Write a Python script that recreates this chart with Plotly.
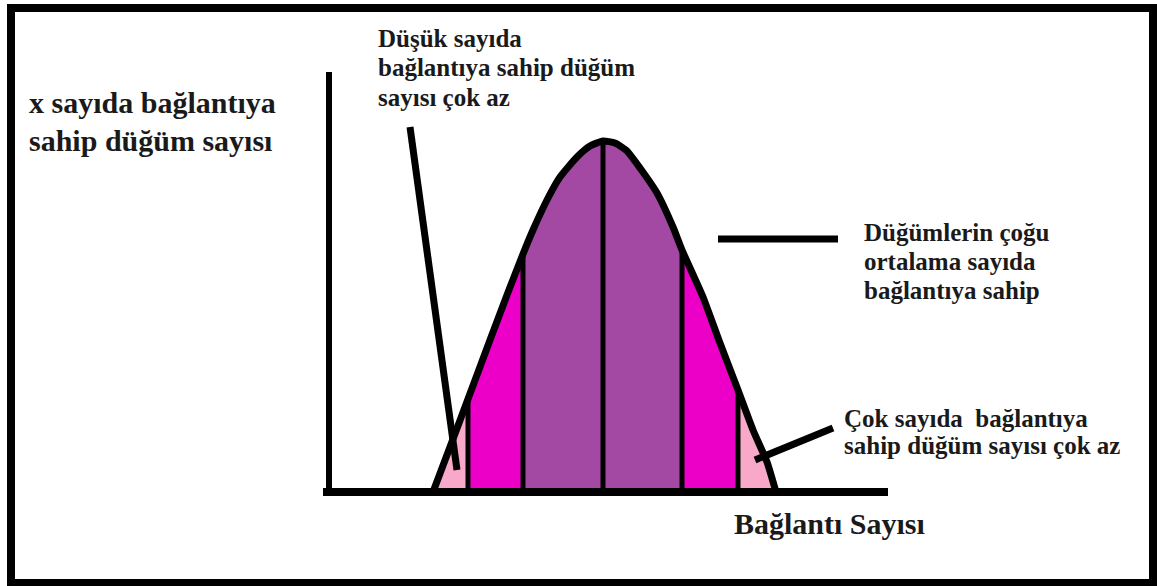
import plotly.graph_objects as go

W, H = 1157, 586

# ---- data (chart units: x = connection count offset, y = node count) ----
curve_x = [104, 124, 139, 161, 178, 194, 204, 218, 231, 248, 261, 274,
           286, 298, 311, 328, 344, 353, 374, 391, 409, 424, 438, 447]
curve_y = [0, 53, 93, 152, 197, 238, 262, 292, 315, 335, 346, 351,
           349, 341, 324, 299, 265, 242, 195, 149, 102, 62, 30, 0]
divider_x = [139, 194, 274, 353, 409]
band_edges = [104, 139, 194, 353, 409, 447]
band_colors = ["#F8A8C8", "#EC00C8", "#A349A4", "#EC00C8", "#F8A8C8"]

y_axis_x, y_axis_y = [0, 0], [0, 420]
x_axis_x, x_axis_y = [-6, 559], [0, 0]

# leader lines: (x0, y0, x1, y1)
leaders = [(81, 365, 128, 22), (389, 253, 509, 253), (426, 32, 504, 64)]

# texts: (lines, left px, baselines px, font size)
texts = [
    (["x sayıda bağlantıya", "sahip düğüm sayısı"], 27, [112, 150], 30),
    (["Düşük sayıda", "bağlantıya sahip düğüm", "sayısı çok az"], 376, [47, 76, 105], 25),
    (["Düğümlerin çoğu", "ortalama sayıda", "bağlantıya sahip"], 862, [240, 269, 298], 25),
    (["Çok sayıda\u00a0 bağlantıya", "sahip düğüm sayısı çok az"], 842, [426, 453], 25),
    (["Bağlantı Sayısı"], 732, [533], 30),
]

fig = go.Figure()

# colored bands under the curve
for i, col in enumerate(band_colors):
    xl, xr = band_edges[i], band_edges[i + 1]
    px = [xl] + [x for x in curve_x if xl <= x <= xr] + [xr]
    py = [0] + [y for x, y in zip(curve_x, curve_y) if xl <= x <= xr] + [0]
    fig.add_trace(go.Scatter(x=px, y=py, fill="toself", fillcolor=col,
                             mode="lines", line=dict(width=0, color=col),
                             hoverinfo="skip", showlegend=False))

# vertical dividers
for dx in divider_x:
    dy = curve_y[curve_x.index(dx)]
    fig.add_trace(go.Scatter(x=[dx, dx], y=[0, dy], mode="lines",
                             line=dict(color="black", width=5),
                             hoverinfo="skip", showlegend=False))

# curve outline
fig.add_trace(go.Scatter(x=curve_x, y=curve_y, mode="lines",
                         line=dict(color="black", width=7, shape="spline", smoothing=0.5),
                         hoverinfo="skip", showlegend=False))

# axes
fig.add_trace(go.Scatter(x=y_axis_x, y=y_axis_y, mode="lines",
                         line=dict(color="black", width=6), hoverinfo="skip", showlegend=False))
fig.add_trace(go.Scatter(x=x_axis_x, y=x_axis_y, mode="lines",
                         line=dict(color="black", width=8), hoverinfo="skip", showlegend=False))

shapes = []
for (x0, y0, x1, y1) in leaders:
    shapes.append(dict(type="line", xref="x", yref="y", x0=x0, y0=y0, x1=x1, y1=y1,
                       line=dict(color="black", width=7)))
# outer frame
shapes.append(dict(type="rect", xref="paper", yref="paper",
                   x0=11 / W, x1=1153 / W, y0=1 - 583 / H, y1=1 - 8 / H,
                   line=dict(color="black", width=8), fillcolor="rgba(0,0,0,0)"))

annotations = []
for lines, left, baselines, size in texts:
    for line, base in zip(lines, baselines):
        yc = base - 0.32 * size
        annotations.append(dict(
            text="<b>" + line + "</b>", xref="paper", yref="paper",
            x=left / W, y=1 - yc / H, xanchor="left", yanchor="middle",
            showarrow=False,
            font=dict(family="Liberation Serif", size=size, color="#1a1a1a")))

fig.update_layout(
    width=W, height=H,
    margin=dict(l=0, r=0, t=0, b=0),
    paper_bgcolor="white", plot_bgcolor="white",
    xaxis=dict(range=[-329, 828], visible=False, fixedrange=True),
    yaxis=dict(range=[-94, 492], visible=False, fixedrange=True),
    shapes=shapes, annotations=annotations, showlegend=False,
)

fig.write_html("out.html",
               config={"displayModeBar": False, "staticPlot": True},
               post_script="document.body.style.margin='0';document.body.style.overflow='hidden';")
